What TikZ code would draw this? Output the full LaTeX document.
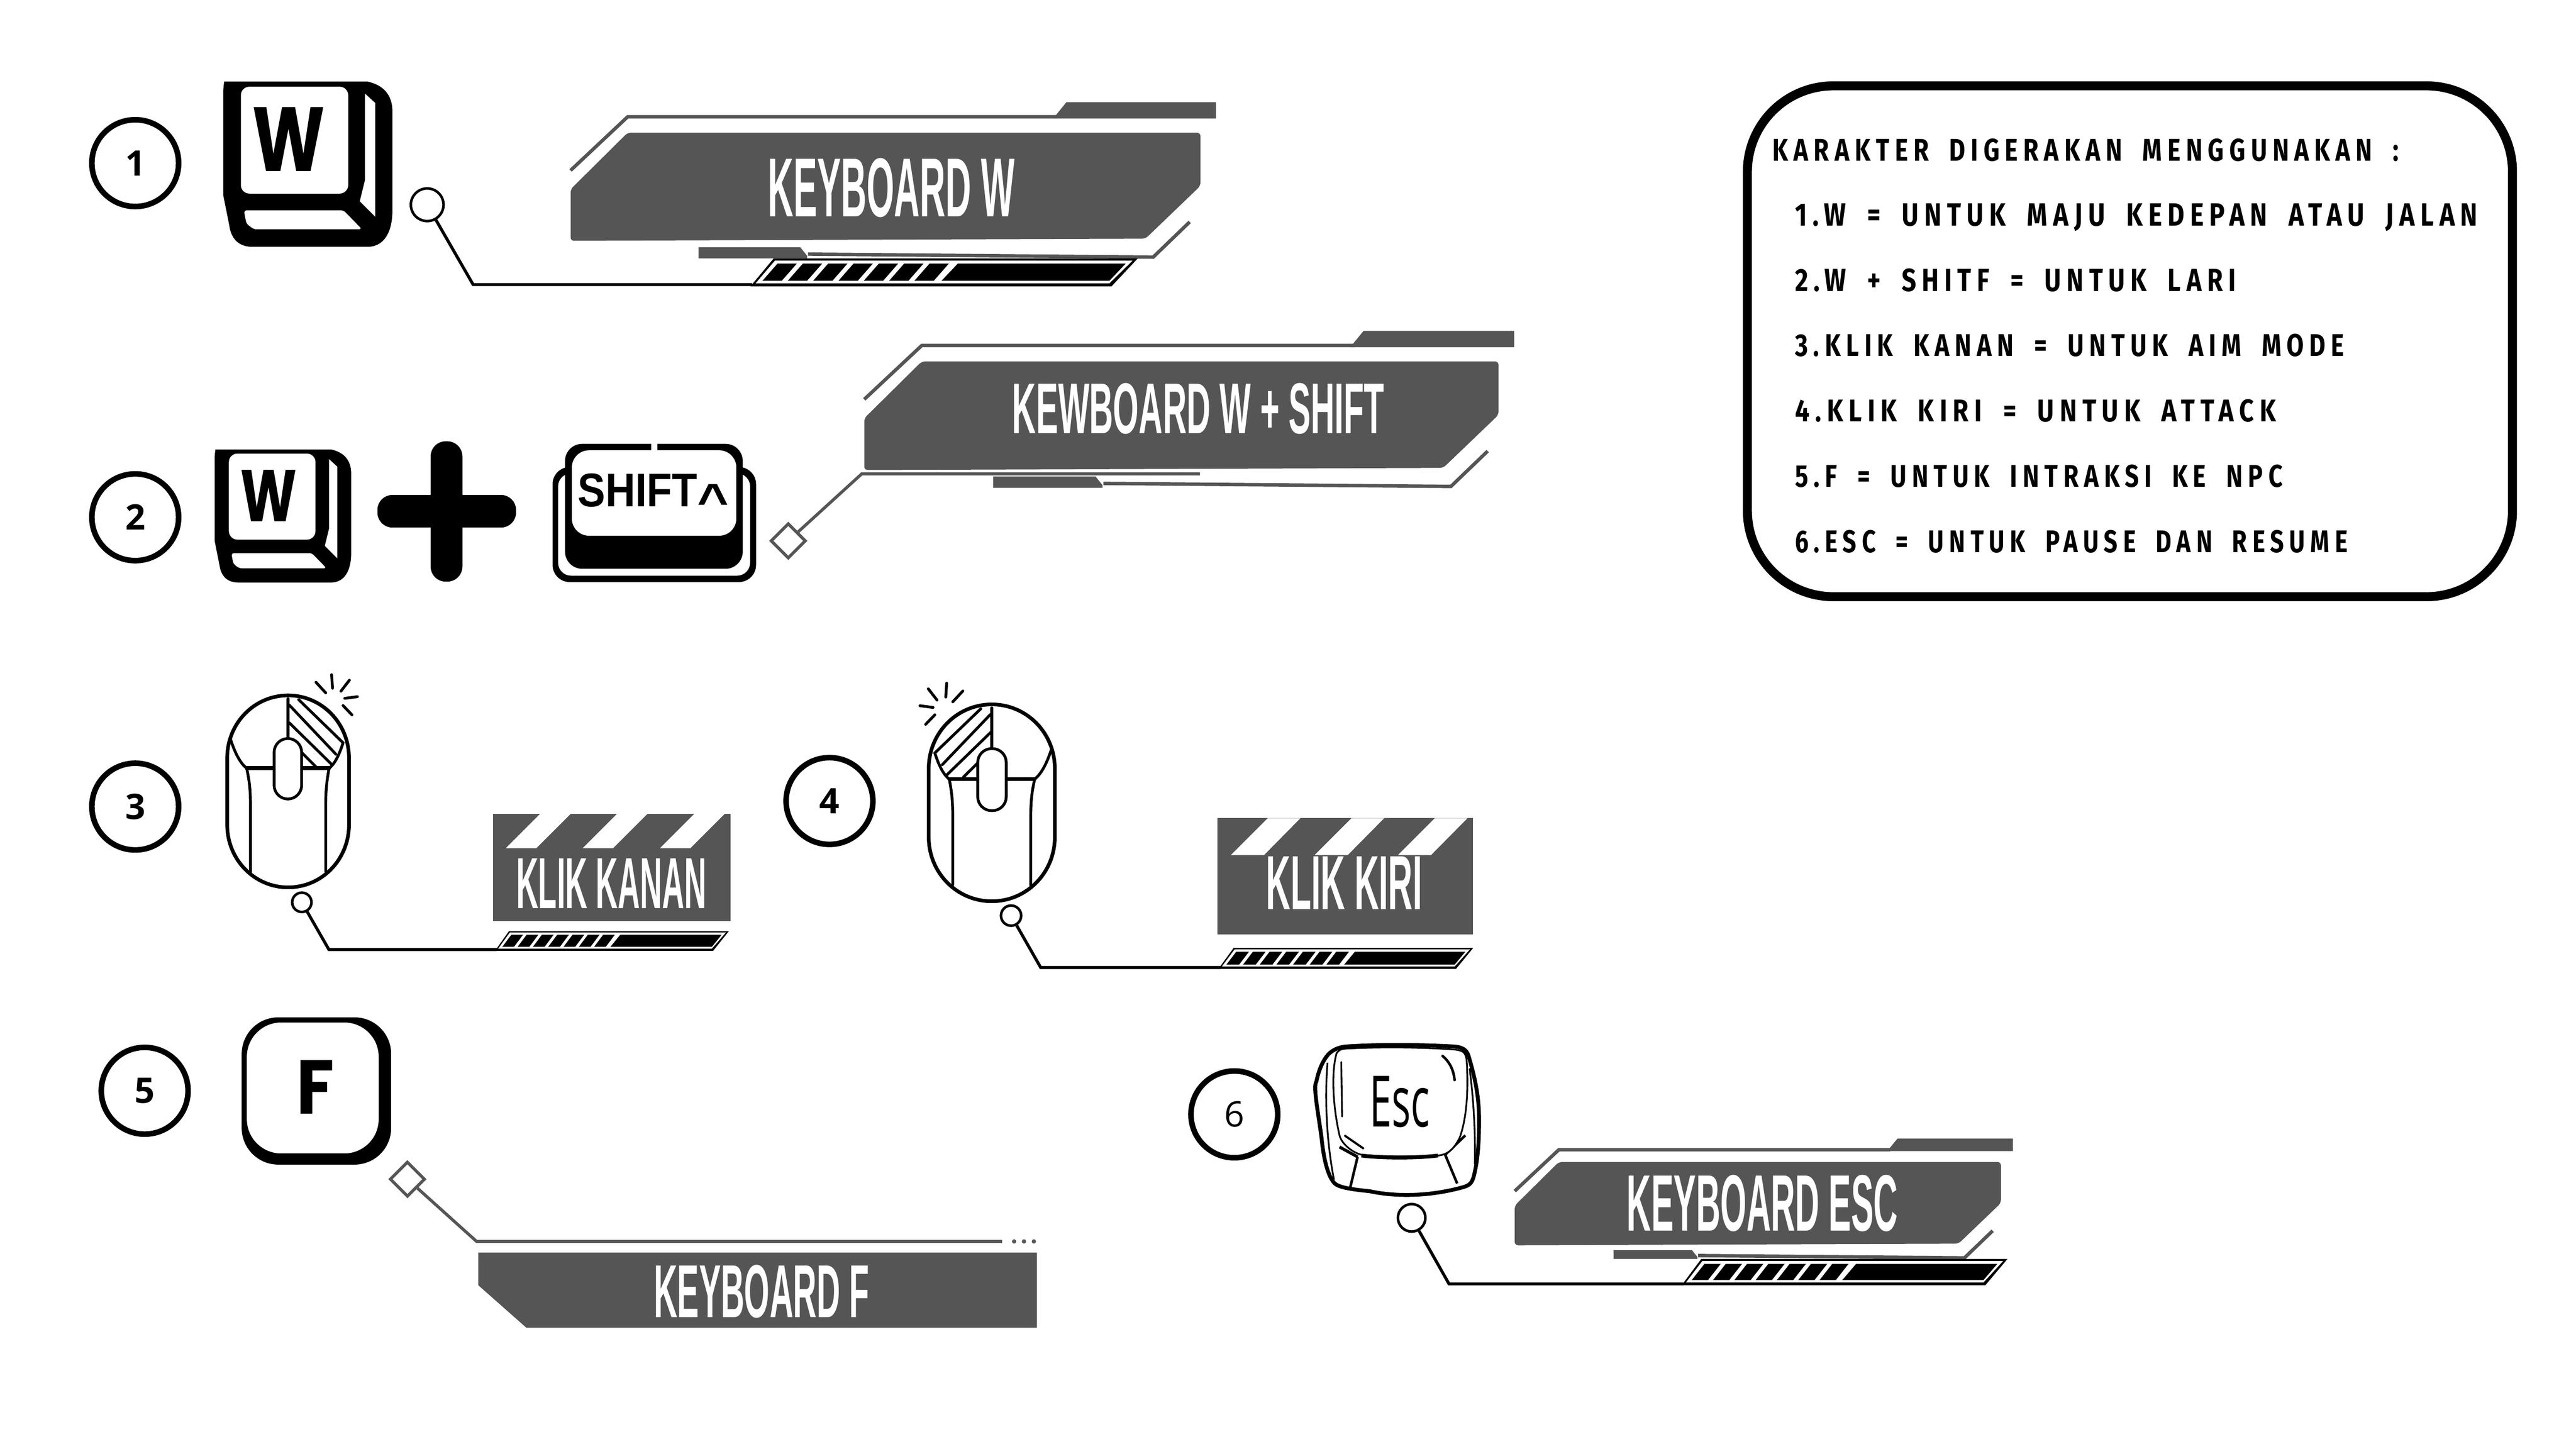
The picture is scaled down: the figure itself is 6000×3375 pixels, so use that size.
\documentclass[tikz,border=0pt]{standalone}
\usepackage{fontspec}
\usepackage{graphicx}
\usetikzlibrary{shapes.geometric}
\setmainfont{Liberation Sans}
\newfontfamily\numfont{Open Sans}
\newfontfamily\infofont[LetterSpace=22,WordSpace=1.8]{Fira Sans}
\newfontfamily\capfont{Poppins}
\definecolor{hud}{HTML}{555555}
\newlength\pxu
\setlength\pxu{0.01cm}
\newcommand{\fitbox}[3]{\resizebox{#1\pxu}{#2\pxu}{\raisebox{0pt}[\height][0pt]{#3}}}
\tikzset{
  numc/.style={circle,draw=black,fill=white,line width=0.13cm,minimum size=2.02cm,inner sep=0pt,
    font=\numfont\bfseries\fontsize{23.3}{28}\selectfont},
  numthin/.style={numc,font=\numfont\fontsize{23.3}{28}\selectfont},
  port/.style={circle,draw=black,fill=white,line width=0.06cm,inner sep=0pt},
  gem/.style={diamond,aspect=1,draw=hud,fill=white,line width=0.07cm,inner sep=0pt,minimum width=0.82cm,minimum height=0.82cm},
  conn/.style={draw=black,line width=0.07cm,line join=miter},
  conngray/.style={draw=hud,line width=0.07cm,line join=miter},
  fit text/.style={inner sep=0pt,outer sep=0pt},
  title/.style={fit text,text=white,font=\bfseries},
  info/.style={fit text,anchor=center,font=\infofont\bfseries},
  mline/.style={draw=black,line width=0.065cm,line cap=round,line join=round},
}
% HUD banner; origin is the top left of the grey plate
\newcommand{\hudplate}[4]{%
  \begin{scope}[shift={(#1,#2)},xscale=#3,yscale=#4]
    \fill[hud,rounded corners=0.08cm] (133,0) -- (1467,0) -- (1467,124) -- (1339,247) -- (0,252) -- (0,132) -- cycle;
    \draw[hud,line width=0.08cm,line join=miter] (0,88) -- (133,-37) -- (1133,-37);
    \fill[hud] (1124,-33) -- (1155,-71) -- (1503,-71) -- (1503,-33) -- cycle;
    \draw[hud,line width=0.08cm,line join=miter] (1442,208) -- (1357,290) -- (553,283);
    \fill[hud] (298,267) -- (535,267) -- (551,287) -- (551,293) -- (298,293) -- cycle;
  \end{scope}}
% striped progress bar; origin top left of the bounding box, nominal 902 x 65
\newcommand{\hudbar}[4]{%
  \begin{scope}[shift={(#1,#2)},xscale=#3,yscale=#4]
    \fill[black] (0,65) -- (54,0) -- (902,0) -- (841,65) -- cycle;
    \fill[white] (12,58) -- (57,5) -- (890,5) -- (836,58) -- cycle;
    \foreach \k in {0,...,6}{
      \fill[black] ({28+59*\k},52) -- ({63+59*\k},12) -- ({108+59*\k},12) -- ({73+59*\k},52) -- cycle;
    }
    \fill[black] (445,52) -- (483,12) -- (874,12) -- (836,52) -- cycle;
  \end{scope}}
% keycap with W, origin top left, nominal 394 x 385
\newcommand{\widekey}[4]{%
  \begin{scope}[shift={(#1,#2)},xscale=#3,yscale=#4]
    \fill[black] (2,0) -- (336,0) .. controls (372,8) and (394,30) .. (394,70) -- (394,300)
      .. controls (394,350) and (375,385) .. (336,385) -- (68,385) .. controls (35,385) and (18,365) .. (14,335)
      -- (0,265) -- (0,20) -- cycle;
    \fill[white,rounded corners=0.2cm] (41,12) rectangle (291,261);
    \fill[white,rounded corners=0.06cm] (48,300) -- (280,300) -- (323,344) -- (71,344) -- (54,331) -- cycle;
    \fill[white] (330,28) -- (354,50) -- (354,315) -- (318,279) -- (330,230) -- cycle;
  \end{scope}}
% mouse, origin at top centre of the body, nominal 288 x 454
\newcommand{\hudmouse}[4]{%
  \begin{scope}[shift={(#1,#2)},xscale=#3,yscale=#4]
    \draw[mline,fill=white,line width=0.085cm] (-144,148) .. controls (-144,66) and (-80,0) .. (0,0)
      .. controls (80,0) and (144,66) .. (144,148) -- (144,306)
      .. controls (144,388) and (80,454) .. (0,454) .. controls (-80,454) and (-144,388) .. (-144,306) -- cycle;
    \draw[mline] (-136,104) .. controls (-118,160) and (-100,170) .. (-98,172) .. controls (-92,200) and (-89,220) .. (-89,260) -- (-89,418);
    \draw[mline] (130,112) .. controls (115,160) and (100,170) .. (97,172) .. controls (92,200) and (89,220) .. (89,260) -- (89,416);
    \draw[mline] (0,8) -- (0,102);
    \draw[mline] (25,10) -- (130,112);
    \draw[mline] (3,23) -- (113,139);
    \draw[mline] (3,65) -- (103,163);
    \draw[mline] (32,135) -- (65,168);
    \draw[mline,line width=0.09cm] (-98,172) -- (97,172);
    \draw[mline,fill=white,rounded corners=0.32cm] (-33,102) rectangle (32,245);
    \foreach \a/\b/\c/\d in {103/-49/105/-17,66/-31/89/-6,145/-36/125/-10,134/7/164/3,130/24/151/46}{
      \draw[mline,line width=0.065cm] (\a,\b) -- (\c,\d);
    }
  \end{scope}}
\begin{document}
\begin{tikzpicture}[x=0.01cm,y=-0.01cm]
\useasboundingbox (0,0) rectangle (6000,3375);
\fill[white] (0,0) rectangle (6000,3375);

% ---------- numbers
\node[numc] (n1) at (315,380) {1};
\node[numc] (n2) at (315,1205) {2};
\node[numc] (n3) at (315,1879) {3};
\node[numc] (n4) at (1932,1866) {4};
\node[numc] (n5) at (337,2541) {5};
\node[numthin] (n6) at (2875,2596) {6};

% ---------- row 1
\widekey{520}{190}{1}{1}
\node[fit text] (w1) at (672,325) {\fitbox{170}{149}{\capfont\bfseries W}};
\hudplate{1329}{309}{1}{1}
\node[title] (t1) at (2076,437) {\fitbox{575}{136}{KEYBOARD W}};
\hudbar{1748}{602}{1}{1}
\node[port,minimum size=0.76cm] (p1) at (995,477) {};
\coordinate (b1) at (1102,663);
\coordinate (e1) at (1752,663);
\draw[conn] (p1) -- (b1) -- (e1);

% ---------- row 2
\widekey{500}{1047}{0.807}{0.805}
\node[fit text] (w2) at (626,1155) {\fitbox{132}{120}{\capfont\bfseries W}};
\fill[black,rounded corners=0.35cm] (1003,1028) rectangle (1077,1355);
\fill[black,rounded corners=0.35cm] (879,1153) rectangle (1202,1229);
% shift key
\fill[black,rounded corners=0.4cm] (1287,1088) rectangle (1761,1356);
\fill[white,rounded corners=0.3cm] (1300,1103) rectangle (1747,1341);
\fill[black,rounded corners=0.4cm] (1316,1034) rectangle (1730,1325);
\fill[white,rounded corners=0.4cm] (1332,1049) rectangle (1715,1248);
\fill[white] (1517,1032) rectangle (1531,1050);
\node[fit text] (sh) at (1522,1141.5) {\fitbox{352}{77}{\bfseries SHIFT\raisebox{-0.22em}{\scalebox{1.3}[1]{\textasciicircum}}}};
\hudplate{2013}{842}{1.007}{1.004}
\node[title] (t2) at (2791,951) {\fitbox{866}{117}{KEWBOARD W + SHIFT}};
\node[gem] (p2) at (1836,1260) {};
\coordinate (b2) at (2007,1104);
\coordinate (e2) at (2795,1104);
\draw[conngray] (p2) -- (b2) -- (e2);

% ---------- mouse 3 and 4
\hudmouse{671}{1620}{0.985}{0.985}
\hudmouse{2310}{1641}{-1.02}{1.01}
% panel 3
\fill[hud] (1148,1896) rectangle (1701,2145);
\foreach \tx in {1258,1437,1617}{
  \fill[white] (\tx,1896) -- ({\tx+71},1896) -- ({\tx-9},1976) -- ({\tx-80},1976) -- cycle;
}
\node[title] (t3) at (1424,2058) {\fitbox{443}{116}{KLIK KANAN}};
\hudbar{1153}{2169}{0.604}{0.708}
\node[port,minimum size=0.45cm] (p3) at (703,2102) {};
\coordinate (b3) at (766,2212);
\coordinate (e3) at (1157,2212);
\draw[conn] (p3) -- (b3) -- (e3);
% panel 4
\fill[hud] (2835,1906) rectangle (3431,2177);
\foreach \tx in {2953,3148,3342}{
  \fill[white] (\tx,1906) -- ({\tx+76},1906) -- ({\tx-9},1992) -- ({\tx-86},1992) -- cycle;
}
\node[title] (t4) at (3131,2057) {\fitbox{363}{123}{KLIK KIRI}};
\hudbar{2838}{2208}{0.658}{0.754}
\node[port,minimum size=0.47cm] (p4) at (2355,2133) {};
\coordinate (b4) at (2424,2254);
\coordinate (e4) at (2843,2254);
\draw[conn] (p4) -- (b4) -- (e4);

% ---------- key F
\fill[black,rounded corners=0.85cm] (563,2370) rectangle (911,2713);
\fill[white,rounded corners=0.8cm] (575,2382) rectangle (882,2687);
\node[fit text] (kf) at (734,2532) {\fitbox{88}{125}{\capfont\bfseries F}};
\fill[hud] (1114,2918) -- (2415,2918) -- (2415,3093) -- (1226,3093) -- (1114,2994) -- cycle;
\node[title] (t5) at (1774,3008) {\fitbox{502}{122}{KEYBOARD F}};
\node[gem] (p5) at (949,2747) {};
\coordinate (b5) at (1110,2892);
\coordinate (e5) at (2334,2892);
\draw[conngray] (p5) -- (b5) -- (e5);
\foreach \dx in {2362,2385,2408}{\fill[hud] (\dx,2892) circle[radius=5];}

% ---------- key Esc
\draw[black,fill=white,line width=0.09cm,line join=round]
  (3133,2438) .. controls (3220,2432) and (3320,2434) .. (3388,2438)
  .. controls (3410,2440) and (3418,2448) .. (3422,2465)
  .. controls (3438,2520) and (3445,2560) .. (3445,2610)
  .. controls (3445,2660) and (3442,2700) .. (3435,2730)
  .. controls (3430,2755) and (3425,2760) .. (3410,2765)
  .. controls (3340,2785) and (3260,2790) .. (3190,2775)
  .. controls (3140,2770) and (3115,2765) .. (3107,2755)
  .. controls (3090,2735) and (3082,2690) .. (3078,2650)
  .. controls (3070,2590) and (3058,2530) .. (3066,2520)
  .. controls (3072,2490) and (3082,2470) .. (3094,2456)
  .. controls (3105,2445) and (3118,2440) .. (3133,2438) -- cycle;
\draw[black,line width=0.04cm] (3092,2476) .. controls (3085,2560) and (3090,2660) .. (3107,2748);
\draw[black,line width=0.04cm] (3423,2489) .. controls (3432,2560) and (3437,2640) .. (3435,2712);
\draw[black,line width=0.07cm] (3120,2672) -- (3162,2695);
\draw[black,line width=0.06cm] (3413,2645) -- (3366,2690);
\draw[black,line width=0.06cm] (3162,2695) -- (3145,2766);
\draw[black,line width=0.06cm] (3366,2690) -- (3394,2757);
\draw[black,fill=white,line width=0.04cm] (3113,2454) .. controls (3118,2446) and (3125,2443) .. (3133,2443)
  .. controls (3220,2438) and (3320,2440) .. (3388,2445)
  .. controls (3408,2447) and (3414,2452) .. (3416,2470)
  .. controls (3420,2530) and (3418,2600) .. (3400,2650)
  .. controls (3385,2680) and (3370,2690) .. (3349,2692)
  .. controls (3290,2695) and (3220,2695) .. (3171,2690)
  .. controls (3150,2685) and (3125,2665) .. (3120,2645)
  .. controls (3105,2580) and (3100,2500) .. (3113,2454) -- cycle;
\draw[black,line width=0.09cm] (3171,2692) .. controls (3220,2698) and (3300,2698) .. (3349,2692);
\draw[black,line width=0.04cm,line cap=round] (3124,2474) -- (3126,2601);
\draw[black,line width=0.06cm,line cap=round] (3360,2460) .. controls (3378,2475) and (3386,2495) .. (3388,2516);
\draw[black,line width=0.05cm,line cap=round] (3133,2646) -- (3175,2675);
\node[fit text] (kesc) at (3260,2566) {\fitbox{140}{118}{\numfont Esc}};
\hudplate{3528}{2707}{0.772}{0.77}
\node[title] (t6) at (4105,2802) {\fitbox{631}{130}{KEYBOARD ESC}};
\hudbar{3917}{2933}{0.841}{0.938}
\node[port,minimum size=0.64cm] (p6) at (3288,2837) {};
\coordinate (b6) at (3375,2991);
\coordinate (e6) at (3921,2991);
\draw[conn] (p6) -- (b6) -- (e6);

% ---------- info box
\draw[black,line width=0.21cm,rounded corners=2cm] (4070,200) rectangle (5852,1390);
\node[info] (i0) at (4858,349)  {\fitbox{1458}{52}{KARAKTER DIGERAKAN MENGGUNAKAN :}};
\node[info] (i1) at (4976,500)  {\fitbox{1590}{52}{1.W = UNTUK MAJU KEDEPAN ATAU JALAN}};
\node[info] (i2) at (4694.5,652){\fitbox{1027}{53}{2.W + SHITF = UNTUK LARI}};
\node[info] (i3) at (4820.5,804){\fitbox{1279}{52}{3.KLIK KANAN = UNTUK AIM MODE}};
\node[info] (i4) at (4741,956)  {\fitbox{1120}{52}{4.KLIK KIRI = UNTUK ATTACK}};
\node[info] (i5) at (4749,1108) {\fitbox{1136}{52}{5.F = UNTUK INTRAKSI KE NPC}};
\node[info] (i6) at (4824.5,1261){\fitbox{1287}{52}{6.ESC = UNTUK PAUSE DAN RESUME}};
\end{tikzpicture}
\end{document}
